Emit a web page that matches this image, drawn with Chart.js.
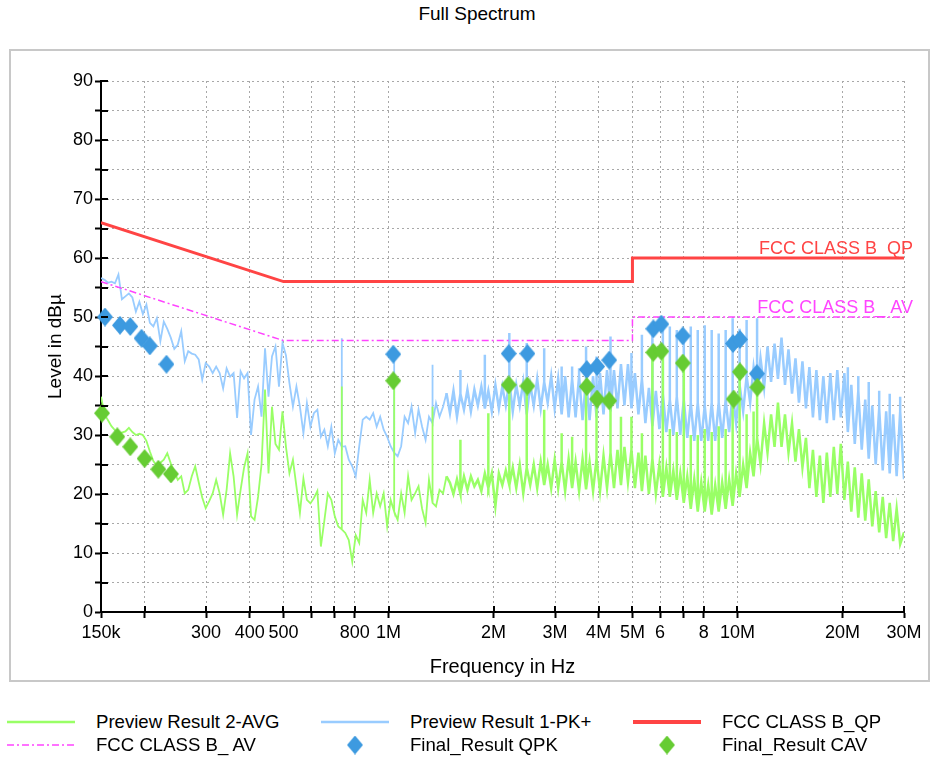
<!DOCTYPE html>
<html>
<head>
<meta charset="utf-8">
<title>Full Spectrum</title>
<script src="https://cdn.jsdelivr.net/npm/chart.js@4.4.1/dist/chart.umd.min.js"></script>
<style>
  html, body { margin: 0; padding: 0; background: #fff; }
  body { width: 937px; height: 762px; position: relative; overflow: hidden; font-family: "Liberation Sans", Arial, sans-serif; }
  #frame { position: absolute; left: 9px; top: 49px; width: 917px; height: 629px; border: 2px solid #c8c8c8; }
  #title { position: absolute; left: 0; top: 3px; width: 954px; text-align: center; font-size: 19px; }
  #wrap { position: absolute; left: 0; top: 0; width: 937px; height: 700px; }
  #legend { position: absolute; left: 0; top: 710px; width: 937px; display: grid; grid-template-columns: 314px 312px 311px; font-size: 18.6px; }
  .item { display: flex; align-items: center; height: 23px; padding-left: 7px; white-space: nowrap; }
  .item canvas { margin-right: 21px; }
</style>
</head>
<body>
<div id="frame"></div>
<div id="title">Full Spectrum</div>
<div id="wrap"><canvas id="chart" width="937" height="700"></canvas></div>
<div id="legend"></div>
<script>
"use strict";
// scan frequencies (MHz) shared by both preview traces
const freqMHz = [
  0.15, 0.1535, 0.1571, 0.1607, 0.1645, 0.1683, 0.1722, 0.1762, 0.1803, 0.1845,
  0.1888, 0.1932, 0.1977, 0.2024, 0.2071, 0.2119, 0.2168, 0.2219, 0.227, 0.2323,
  0.2377, 0.2433, 0.2489, 0.2547, 0.2607, 0.2667, 0.273, 0.2793, 0.2858, 0.2925,
  0.2993, 0.3063, 0.3134, 0.3207, 0.3282, 0.3358, 0.3436, 0.3516, 0.3598, 0.3682,
  0.3768, 0.3856, 0.3945, 0.4037, 0.4131, 0.4228, 0.4326, 0.4427, 0.453, 0.4635,
  0.4743, 0.4854, 0.4967, 0.5083, 0.5201, 0.5322, 0.5446, 0.5573, 0.5703, 0.5836,
  0.5972, 0.6111, 0.6253, 0.6399, 0.6548, 0.67, 0.6856, 0.7016, 0.7179, 0.7347,
  0.7518, 0.7693, 0.7872, 0.8055, 0.8243, 0.8435, 0.8632, 0.8833, 0.9038, 0.9249,
  0.9464, 0.9685, 0.991, 1.014, 1.038, 1.062, 1.087, 1.112, 1.138, 1.164,
  1.192, 1.219, 1.248, 1.277, 1.306, 1.337, 1.368, 1.4, 1.433, 1.466,
  1.5, 1.535, 1.571, 1.607, 1.645, 1.683, 1.722, 1.762, 1.803, 1.845,
  1.888, 1.932, 1.977, 2.024, 2.071, 2.119, 2.168, 2.219, 2.27, 2.323,
  2.377, 2.433, 2.489, 2.547, 2.607, 2.667, 2.73, 2.793, 2.858, 2.925,
  2.993, 3.063, 3.134, 3.207, 3.282, 3.358, 3.436, 3.516, 3.598, 3.682,
  3.768, 3.856, 3.945, 4.037, 4.131, 4.228, 4.326, 4.427, 4.53, 4.635,
  4.743, 4.854, 4.967, 5.083, 5.201, 5.322, 5.446, 5.573, 5.703, 5.836,
  5.972, 6.111, 6.253, 6.399, 6.548, 6.7, 6.856, 7.016, 7.179, 7.347,
  7.518, 7.693, 7.872, 8.055, 8.243, 8.435, 8.632, 8.833, 9.038, 9.249,
  9.464, 9.685, 9.91, 10.14, 10.38, 10.62, 10.87, 11.12, 11.38, 11.64,
  11.92, 12.19, 12.48, 12.77, 13.06, 13.37, 13.68, 14.0, 14.33, 14.66,
  15.0, 15.35, 15.71, 16.07, 16.45, 16.83, 17.22, 17.62, 18.03, 18.45,
  18.88, 19.32, 19.77, 20.24, 20.71, 21.19, 21.68, 22.19, 22.7, 23.23,
  23.77, 24.33, 24.89, 25.47, 26.07, 26.67, 27.3, 27.93, 28.58, 29.25,
  30.0
];
// Preview Result 1-PK+ (dBµV), noise floor at each scan frequency
const pkLevels = [
  56.6, 56.3, 55.8, 56.0, 55.7, 57.2, 53.0, 53.5, 54.0, 53.3,
  50.9, 52.6, 50.5, 52.1, 49.0, 48.4, 49.8, 45.9, 49.2, 48.0,
  46.5, 44.6, 45.3, 47.6, 42.5, 44.2, 43.8, 43.6, 42.8, 39.4,
  42.2, 41.6, 40.5, 41.6, 40.5, 37.9, 41.3, 39.9, 40.5, 32.9,
  40.8, 39.6, 40.5, 30.0, 36.0, 38.2, 33.1, 44.7, 36.5, 43.3,
  45.0, 38.2, 45.6, 43.5, 38.8, 34.8, 38.2, 34.8, 30.3, 35.4,
  31.4, 33.7, 34.3, 29.7, 30.9, 28.1, 31.4, 26.9, 29.2, 28.0,
  28.1, 25.8, 24.7, 23.0, 28.1, 32.6, 33.1, 32.6, 33.7, 31.4,
  33.1, 30.9, 29.7, 28.1, 27.0, 26.4, 28.1, 33.1, 32.0, 34.8,
  30.3, 34.3, 31.4, 29.2, 33.1, 32.0, 35.4, 33.1, 34.8, 37.1,
  33.7, 37.5, 33.1, 37.0, 34.3, 37.7, 34.0, 37.7, 35.0, 38.2,
  34.5, 37.5, 34.0, 38.5, 34.5, 38.2, 35.0, 39.0, 34.0, 38.5,
  35.0, 39.0, 33.5, 38.5, 35.0, 39.5, 34.5, 39.0, 35.5, 40.0,
  34.5, 39.5, 33.5, 40.0, 33.0, 39.5, 33.0, 40.0, 32.5, 39.5,
  32.5, 40.0, 33.0, 40.5, 33.5, 41.0, 34.0, 41.0, 34.5, 42.0,
  35.0, 42.0, 34.5, 40.5, 33.5, 39.5, 32.0, 38.0, 31.5, 37.5,
  31.0, 37.0, 30.5, 36.0, 30.0, 36.5, 30.0, 36.0, 29.5, 35.5,
  29.0, 35.5, 29.0, 35.0, 29.0, 35.5, 29.0, 35.5, 29.5, 36.0,
  30.5, 37.0, 32.0, 38.5, 34.0, 40.0, 35.5, 41.5, 37.0, 43.0,
  38.0, 45.0, 39.0, 45.5, 39.5, 46.5, 38.5, 44.5, 37.0, 43.0,
  35.5, 42.5, 34.5, 41.5, 33.0, 41.0, 32.5, 40.0, 32.0, 40.5,
  32.5, 41.0, 33.0, 40.5, 30.5, 38.5, 28.5, 37.5, 27.5, 36.0,
  26.0, 35.0, 25.0, 34.5, 24.0, 34.0, 23.5, 33.5, 23.0, 34.0,
  22.5
];
// PK+ harmonic peaks (frequency taken from the scan grid)
const pkSpikeFreq = [0.7347, 1.038, 1.337, 1.607, 1.888, 2.219, 2.489, 2.793, 3.134, 3.358, 3.516, 3.682, 3.945, 4.326, 4.967,
  5.322, 5.703, 6.111, 6.399, 6.7, 7.016, 7.347, 7.693, 8.055, 8.435, 8.833, 9.249, 9.685, 10.14, 10.62, 11.38,
  20.71, 22.19, 23.77, 25.47, 27.3, 29.25];
const pkSpikeLevel = [46.4, 44.4, 41.9, 41.0, 43.6, 47.3, 45.6, 44.7, 41.6, 41.6, 41.3, 45.0, 43.3, 46.7, 43.9,
  47.0, 48.4, 50.1, 48.4, 47.8, 46.7, 48.4, 47.8, 48.6, 47.8, 47.2, 47.8, 49.8, 48.0, 49.5, 49.8,
  41.5, 40.0, 39.0, 37.5, 37.0, 36.5];
// Preview Result 2-AVG (dBµV)
const avgLevels = [
  36.5, 33.5, 32.5, 31.5, 30.8, 29.8, 30.4, 30.6, 31.2, 30.5,
  30.0, 30.2, 30.0, 29.0, 27.2, 25.6, 24.8, 25.3, 25.8, 26.9,
  25.2, 23.8, 22.4, 23.0, 20.1, 20.7, 23.0, 24.7, 22.0, 19.4,
  17.6, 18.8, 20.1, 22.4, 20.1, 16.5, 20.7, 26.9, 23.0, 16.5,
  20.7, 24.5, 26.9, 16.2, 15.6, 19.5, 25.0, 37.7, 23.5, 34.8,
  28.5, 27.5, 34.0, 28.0, 23.5, 25.8, 21.3, 16.8, 22.6, 19.0,
  18.4, 19.3, 20.5, 11.1, 15.5, 20.1, 19.0, 16.2, 14.5, 14.0,
  13.4, 12.2, 8.5, 13.0, 11.7, 19.0, 16.8, 22.4, 16.8, 20.1,
  17.9, 20.1, 14.5, 19.0, 17.0, 15.6, 20.1, 16.8, 23.0, 19.0,
  20.1, 21.3, 17.5, 15.1, 22.4, 18.5, 17.9, 20.7, 20.1, 23.0,
  21.9, 20.0, 22.5, 20.0, 23.0, 20.7, 23.0, 21.3, 22.4, 20.5,
  23.5, 21.0, 23.5, 17.9, 23.5, 21.5, 24.0, 21.5, 24.5, 21.0,
  25.0, 20.1, 24.5, 21.5, 25.0, 21.0, 25.5, 21.5, 25.0, 21.0,
  25.8, 21.0, 25.5, 20.5, 26.0, 21.0, 25.5, 20.5, 26.0, 20.8,
  25.5, 20.5, 26.0, 20.5, 26.5, 21.0, 27.0, 21.0, 27.5, 21.5,
  28.0, 22.0, 27.5, 21.0, 27.0, 20.5, 26.5, 20.0, 26.0, 20.0,
  25.0, 19.5, 24.5, 19.5, 24.0, 19.0, 23.5, 18.5, 23.0, 17.5,
  22.5, 17.0, 22.0, 17.0, 21.5, 16.5, 21.5, 17.0, 22.0, 17.5,
  22.5, 18.0, 23.5, 19.5, 25.0, 21.0, 27.0, 23.0, 29.5, 25.0,
  32.0, 27.0, 33.5, 28.0, 35.5, 28.0, 33.5, 27.0, 32.0, 25.5,
  31.0, 24.5, 29.5, 21.0, 27.5, 19.5, 26.5, 18.5, 27.0, 19.5,
  28.0, 20.0, 28.5, 19.0, 25.5, 17.0, 24.5, 16.0, 23.5, 15.5,
  22.5, 14.5, 20.5, 13.5, 19.5, 12.5, 18.5, 12.0, 17.5, 11.5,
  13.5
];
// AVG harmonic peaks
const avgSpikeFreq = [0.7347, 1.038, 1.337, 1.607, 1.932, 2.219, 2.489, 2.793, 3.134, 3.358, 3.682, 3.945, 4.326, 4.635, 4.967,
  5.322, 5.703, 6.111, 6.399, 6.7, 7.016, 7.347, 7.693, 8.055, 8.435, 8.833, 9.249, 9.685, 10.14, 10.62, 11.12, 11.38];
const avgSpikeLevel = [38.2, 39.3, 34.8, 29.2, 33.7, 38.5, 38.3, 34.3, 30.3, 29.7, 38.2, 36.1, 35.8, 33.1, 33.1,
  30.3, 44.0, 44.2, 31.0, 30.5, 42.2, 30.0, 30.0, 31.0, 30.5, 31.5, 31.0, 36.1, 40.7, 33.5, 34.0, 38.1];
// limit lines
const qpFreq = [0.15, 0.5, 5, 5, 30];
const qpLimit = [66, 56, 56, 60, 60];
const avFreq = [0.15, 0.5, 5, 5, 30];
const avLimit = [56, 46, 46, 50, 50];
// final measurements
const qpkFreq = [0.154, 0.170, 0.182, 0.196, 0.207, 0.231, 1.032, 2.21, 2.50, 3.70, 3.96, 4.29, 5.74, 6.05, 6.97, 9.71, 10.16, 11.36];
const qpkLevels = [50.0, 48.6, 48.4, 46.4, 45.1, 42.0, 43.7, 43.8, 43.8, 41.1, 41.6, 42.7, 48.0, 48.8, 46.8, 45.5, 46.2, 40.4];
const cavFreq = [0.151, 0.167, 0.182, 0.200, 0.219, 0.238, 1.032, 2.21, 2.50, 3.70, 3.96, 4.29, 5.74, 6.05, 6.97, 9.75, 10.16, 11.4];
const cavLevels = [33.7, 29.7, 28.0, 26.0, 24.2, 23.4, 39.2, 38.5, 38.3, 38.2, 36.1, 35.8, 44.0, 44.2, 42.2, 36.1, 40.7, 38.1];
// axes
const xTicks = [0.15, 0.2, 0.3, 0.4, 0.5, 0.6, 0.7, 0.8, 1, 2, 3, 4, 5, 6, 7, 8, 10, 20, 30];
const xTickLabels = ["150k", "", "300", "400", "500", "", "", "800", "1M", "2M", "3M", "4M", "5M", "6", "", "8", "10M", "20M", "30M"];
const yMin = 0, yMax = 90, yStep = 5, yLabelStep = 10;

const legendOrder = ["Preview Result 2-AVG", "Preview Result 1-PK+", "FCC CLASS B_QP", "FCC CLASS B_ AV", "Final_Result QPK", "Final_Result CAV"];

const FONT = '"Liberation Sans", Arial, sans-serif';
Chart.defaults.font.family = FONT;
Chart.defaults.color = "#000";

const pts = (xs, ys) => xs.map((x, i) => ({ x: x, y: ys[i] }));

// trace points; a harmonic peak is a vertical excursion at its scan frequency
function trace(levels, spikeFreq, spikeLevel) {
  const out = [];
  freqMHz.forEach((f, i) => {
    out.push({ x: f, y: levels[i] });
    const k = spikeFreq.indexOf(f);
    if (k >= 0) out.push({ x: f, y: spikeLevel[k] }, { x: f, y: levels[i] });
  });
  return out;
}

function diamond(color) {
  const c = document.createElement("canvas");
  c.width = 16;
  c.height = 19;
  const g = c.getContext("2d");
  g.fillStyle = color;
  g.beginPath();
  g.moveTo(8, 0);
  g.lineTo(16, 9.5);
  g.lineTo(8, 19);
  g.lineTo(0, 9.5);
  g.closePath();
  g.fill();
  return c;
}

// the receiver trace gets denser above ~1.5 MHz, draw it a bit heavier there
const denseWidth = (c) => (c.p0.parsed.x > 1.45 ? 2.5 : undefined);

const limitLabels = {
  id: "limitLabels",
  afterDatasetsDraw(chart) {
    const { ctx, scales } = chart;
    const xr = scales.x.getPixelForValue(qpFreq[qpFreq.length - 1]) + 9;
    ctx.save();
    ctx.font = "18px " + FONT;
    ctx.textAlign = "right";
    ctx.textBaseline = "alphabetic";
    ctx.fillStyle = "#ff4444";
    ctx.fillText("FCC CLASS B_QP", xr, scales.y.getPixelForValue(qpLimit[qpLimit.length - 1]) - 4);
    ctx.fillStyle = "#ff44ff";
    ctx.fillText("FCC CLASS B_ AV", xr, scales.y.getPixelForValue(avLimit[avLimit.length - 1]) - 4);
    ctx.restore();
  },
};

// tick marks in the original cross the axis line, add the inner half
const innerTicks = {
  id: "innerTicks",
  afterDraw(chart) {
    const { ctx, scales, chartArea } = chart;
    ctx.save();
    ctx.strokeStyle = "#000";
    ctx.lineWidth = 2;
    ctx.beginPath();
    scales.y.ticks.forEach((t) => {
      const py = Math.round(scales.y.getPixelForValue(t.value));
      ctx.moveTo(chartArea.left, py);
      ctx.lineTo(chartArea.left + 7, py);
    });
    scales.x.ticks.forEach((t) => {
      const px = Math.round(scales.x.getPixelForValue(t.value));
      ctx.moveTo(px, chartArea.bottom);
      ctx.lineTo(px, chartArea.bottom - 6);
    });
    ctx.stroke();
    ctx.restore();
  },
};

const gridOpts = { color: "#a8a8a8", lineWidth: 1, tickColor: "#000", tickWidth: 2, tickLength: 6 };
const borderOpts = { color: "#000", width: 2, dash: [2, 3] };

const chart = new Chart(document.getElementById("chart"), {
  type: "line",
  data: {
    datasets: [
      { label: "Final_Result CAV", data: pts(cavFreq, cavLevels), showLine: false, pointStyle: diamond("#66cc33"), pointRadius: 8, clip: false },
      { label: "Final_Result QPK", data: pts(qpkFreq, qpkLevels), showLine: false, pointStyle: diamond("#3d9ae0"), pointRadius: 8, clip: false },
      { label: "FCC CLASS B_QP", data: pts(qpFreq, qpLimit), borderColor: "#ff4444", borderWidth: 3, pointRadius: 0 },
      { label: "FCC CLASS B_ AV", data: pts(avFreq, avLimit), borderColor: "#ff44ff", borderWidth: 1.5, borderDash: [7, 3, 2, 3], pointRadius: 0 },
      { label: "Preview Result 2-AVG", data: trace(avgLevels, avgSpikeFreq, avgSpikeLevel), borderColor: "#99ff66", borderWidth: 1.8, pointRadius: 0, segment: { borderWidth: denseWidth } },
      { label: "Preview Result 1-PK+", data: trace(pkLevels, pkSpikeFreq, pkSpikeLevel), borderColor: "#99ccff", borderWidth: 1.8, pointRadius: 0, segment: { borderWidth: denseWidth } },
    ],
  },
  options: {
    responsive: false,
    animation: false,
    layout: { padding: { left: 40, right: 33, top: 81, bottom: 17 } },
    plugins: { legend: { display: false }, tooltip: { enabled: false }, title: { display: false } },
    elements: { line: { tension: 0 } },
    scales: {
      x: {
        type: "logarithmic",
        min: 0.15,
        max: 30,
        afterBuildTicks: (s) => { s.ticks = xTicks.map((v) => ({ value: v })); },
        afterFit: (s) => { s.height = 71; },
        ticks: { autoSkip: false, maxRotation: 0, padding: 4, font: { size: 18 }, callback: (v, i) => xTickLabels[i] },
        grid: gridOpts,
        border: borderOpts,
        title: { display: true, text: "Frequency in Hz", font: { size: 20 } },
      },
      y: {
        min: yMin,
        max: yMax,
        afterFit: (s) => { s.width = 61; },
        ticks: { stepSize: yStep, autoSkip: false, padding: 2, font: { size: 18 }, callback: (v) => (v % yLabelStep === 0 ? v : "") },
        grid: gridOpts,
        border: borderOpts,
        title: { display: true, text: "Level in dBµ", font: { size: 19 } },
      },
    },
  },
  plugins: [limitLabels, innerTicks],
});

// legend laid out in three columns like the original
const legendEl = document.getElementById("legend");
legendOrder.forEach((name) => {
  const ds = chart.data.datasets.find((d) => d.label === name);
  const item = document.createElement("div");
  item.className = "item";
  const sw = document.createElement("canvas");
  sw.width = 68;
  sw.height = 22;
  const g = sw.getContext("2d");
  if (ds.showLine === false) {
    g.drawImage(ds.pointStyle, 26, 1.5);
  } else {
    g.strokeStyle = ds.borderColor;
    g.lineWidth = ds.borderWidth > 2 ? 4 : ds.borderDash ? 1.5 : 2.5;
    g.setLineDash(ds.borderDash || []);
    g.beginPath();
    g.moveTo(0, 11);
    g.lineTo(68, 11);
    g.stroke();
  }
  const txt = document.createElement("span");
  txt.textContent = name;
  item.append(sw, txt);
  legendEl.append(item);
});
</script>
</body>
</html>
